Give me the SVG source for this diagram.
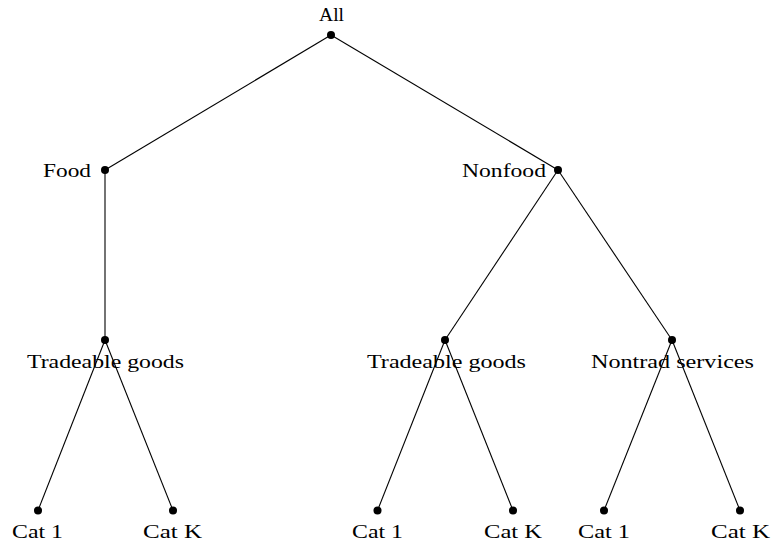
<svg xmlns="http://www.w3.org/2000/svg" width="771" height="544" viewBox="0 0 771 544">
<style>
.e{stroke:#000;stroke-width:1.1;fill:none}
.d{fill:#000}
text{font-family:"Liberation Serif","Times New Roman",serif;font-size:19px;fill:#000}
</style>
<rect width="771" height="544" fill="#fff"/>
<g id="connectors">
<line class="e" x1="331" y1="35" x2="105" y2="170"/>
<line class="e" x1="331" y1="35" x2="558" y2="170"/>
<line class="e" x1="105" y1="170" x2="105" y2="340"/>
<line class="e" x1="558" y1="170" x2="445" y2="340"/>
<line class="e" x1="558" y1="170" x2="672" y2="340"/>
<line class="e" x1="105" y1="340" x2="38" y2="510.5"/>
<line class="e" x1="105" y1="340" x2="173" y2="510.5"/>
<line class="e" x1="445" y1="340" x2="377.5" y2="510.5"/>
<line class="e" x1="445" y1="340" x2="513" y2="510.5"/>
<line class="e" x1="672" y1="340" x2="604" y2="510.5"/>
<line class="e" x1="672" y1="340" x2="740" y2="510.5"/>
</g>
<g id="all"><circle class="d" cx="331" cy="35" r="4"/><text x="319" y="20.5" textLength="25" lengthAdjust="spacingAndGlyphs">All</text></g>
<g id="food"><circle class="d" cx="105" cy="170" r="4"/><text x="43" y="176.5" textLength="48" lengthAdjust="spacingAndGlyphs">Food</text></g>
<g id="nonfood"><circle class="d" cx="558" cy="170" r="4"/><text x="462" y="176.5" textLength="84" lengthAdjust="spacingAndGlyphs">Nonfood</text></g>
<g id="tradeable-food"><circle class="d" cx="105" cy="340" r="4"/><text x="27" y="367.5" textLength="157" lengthAdjust="spacingAndGlyphs">Tradeable goods</text></g>
<g id="tradeable-nonfood"><circle class="d" cx="445" cy="340" r="4"/><text x="367" y="367.5" textLength="159" lengthAdjust="spacingAndGlyphs">Tradeable goods</text></g>
<g id="nontrad-services"><circle class="d" cx="672" cy="340" r="4"/><text x="591" y="367.5" textLength="163" lengthAdjust="spacingAndGlyphs">Nontrad services</text></g>
<g id="cat1-a"><circle class="d" cx="38" cy="510.5" r="4"/><text x="12" y="537.5" textLength="51" lengthAdjust="spacingAndGlyphs">Cat 1</text></g>
<g id="catk-a"><circle class="d" cx="173" cy="510.5" r="4"/><text x="143" y="537.5" textLength="59" lengthAdjust="spacingAndGlyphs">Cat K</text></g>
<g id="cat1-b"><circle class="d" cx="377.5" cy="510.5" r="4"/><text x="352" y="537.5" textLength="51" lengthAdjust="spacingAndGlyphs">Cat 1</text></g>
<g id="catk-b"><circle class="d" cx="513" cy="510.5" r="4"/><text x="484" y="537.5" textLength="58" lengthAdjust="spacingAndGlyphs">Cat K</text></g>
<g id="cat1-c"><circle class="d" cx="604" cy="510.5" r="4"/><text x="578" y="537.5" textLength="52" lengthAdjust="spacingAndGlyphs">Cat 1</text></g>
<g id="catk-c"><circle class="d" cx="740" cy="510.5" r="4"/><text x="711" y="537.5" textLength="59" lengthAdjust="spacingAndGlyphs">Cat K</text></g>
</svg>
